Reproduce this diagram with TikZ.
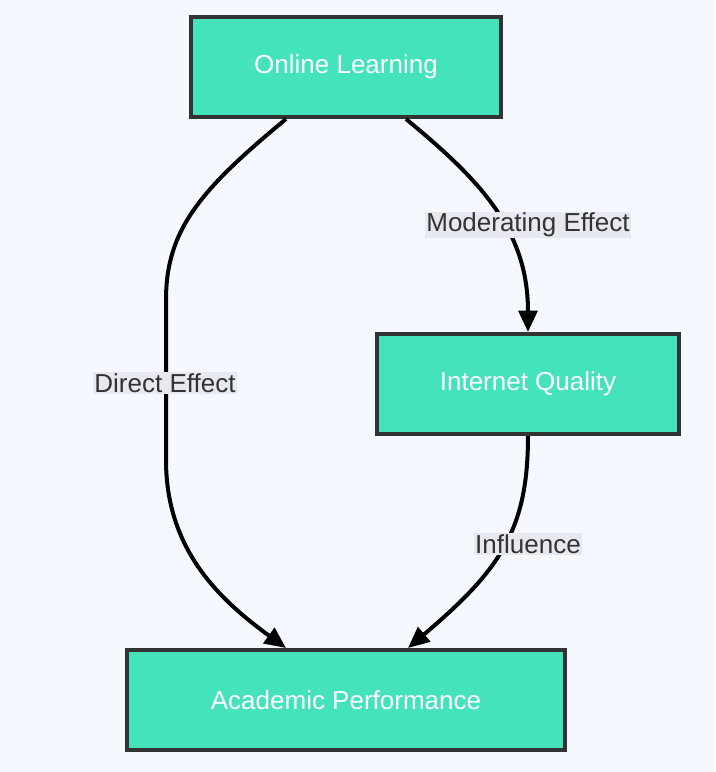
\documentclass[tikz,border=0pt]{standalone}
\usepackage{fontspec}
\setmainfont{Liberation Sans}
\usetikzlibrary{positioning, calc, arrows.meta}
\definecolor{bgcol}{HTML}{F5F8FF}
\definecolor{boxcol}{HTML}{44E3BB}
\definecolor{edgecol}{HTML}{333333}
\definecolor{lblcol}{HTML}{E8E8F0}
\begin{document}
\begin{tikzpicture}
    [x=0.75pt, y=-0.75pt,
    boxnode/.style={rectangle, draw=edgecol, fill=boxcol, line width=3pt, text=white, font=\fontsize{19.5}{23}\selectfont, minimum height=75pt, inner sep=0pt},
    lblnode/.style={fill=lblcol, text=edgecol, font=\fontsize{19.5}{23}\selectfont, inner sep=1pt},
    flow/.style={line width=3pt, black, -{Triangle[length=16pt,width=14pt]}},]

    %Background
    \fill[bgcol] (0,0) rectangle (715,772);
    \useasboundingbox (0,0) rectangle (715,772);

    %Nodes
    \node[boxnode, minimum width=233pt](online) at (346,67){Online Learning};
    \node[boxnode, minimum width=226pt](internet) at (528,384){Internet Quality};
    \node[boxnode, minimum width=328pt](academic) at (346,700){Academic Performance};

    %Lines
    \draw[flow] ($(online.south)+(-60,0)$) .. controls (200,190) and (166,230) .. (166,300)
        -- (166,460) .. controls (166,550) and (220,600) .. ($(academic.north)+(-60,0)$);
    \node[lblnode](direct) at (165,383){Direct Effect};

    \draw[flow] ($(online.south)+(60,0)$) .. controls (480,180) and (528,230) .. (internet.north);
    \node[lblnode](moderating) at (528,225){Moderating Effect};

    \draw[flow] (internet.south) .. controls (528,530) and (500,570) .. ($(academic.north)+(62,0)$);
    \node[lblnode](influence) at (528,544){Influence};
\end{tikzpicture}
\end{document}
